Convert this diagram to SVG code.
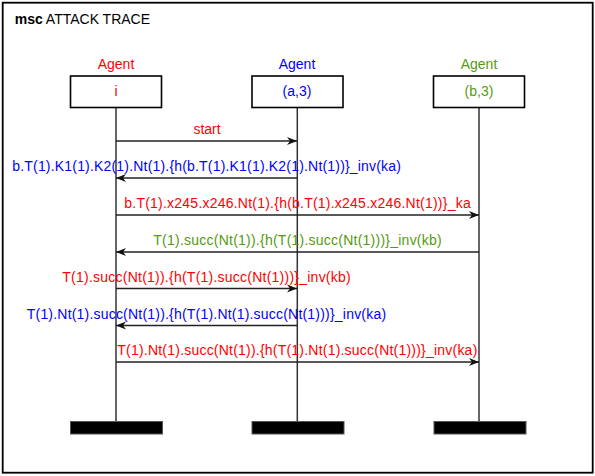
<svg xmlns="http://www.w3.org/2000/svg" width="595" height="476" viewBox="0 0 595 476">
<style>
text{font-family:"Liberation Sans",Arial,sans-serif;font-size:14px}
.c{text-anchor:middle}
.r{fill:#ff0000}
.b{fill:#0000ff}
.g{fill:#559a0f}
.box{fill:#fff;stroke:#000;stroke-width:1.6}
.life{stroke:#333;stroke-width:1.5;fill:none}
.bar{fill:#000;stroke:#555;stroke-width:1}
.msg{stroke:#222;stroke-width:1.4;fill:none;marker-end:url(#ah)}
</style>
<defs>
<marker id="ah" viewBox="-11 -5 12 10" refX="0" refY="0" markerWidth="12" markerHeight="10" markerUnits="userSpaceOnUse" orient="auto">
<path d="M-10,-4 L0,0 L-10,4 L-7,0 z" fill="#111"/>
</marker>
</defs>
<rect x="2.7" y="2.7" width="590" height="470" fill="#fff" stroke="#000" stroke-width="1.8"/>
<text x="14.7" y="24"><tspan font-weight="bold">msc</tspan> ATTACK TRACE</text>

<g id="agent-i">
<text class="c r" x="116" y="69">Agent</text>
<line class="life" x1="116" y1="107.5" x2="116" y2="421.5"/>
<rect class="box" x="70.5" y="76" width="91" height="31.5"/>
<text class="c r" x="116" y="96">i</text>
<rect class="bar" x="70.5" y="421.5" width="92" height="12.5"/>
</g>
<g id="agent-a3">
<text class="c b" x="297" y="69">Agent</text>
<line class="life" x1="297.3" y1="107.5" x2="297.3" y2="421.5"/>
<rect class="box" x="252" y="76" width="91" height="31.5"/>
<text class="c b" x="297" y="96">(a,3)</text>
<rect class="bar" x="252" y="421.5" width="92" height="12.5"/>
</g>
<g id="agent-b3">
<text class="c g" x="479" y="69">Agent</text>
<line class="life" x1="479" y1="107.5" x2="479" y2="421.5"/>
<rect class="box" x="433.5" y="76" width="91" height="31.5"/>
<text class="c g" x="479" y="96">(b,3)</text>
<rect class="bar" x="434" y="421.5" width="92" height="12.5"/>
</g>

<g id="connectors">
<line class="msg" x1="116" y1="141" x2="297" y2="141"/>
<text class="c r" x="207" y="133.5">start</text>
<line class="msg" x1="297" y1="178" x2="116" y2="178"/>
<text class="c b" x="206.6" y="170.5" textLength="388.7" lengthAdjust="spacing">b.T(1).K1(1).K2(1).Nt(1).{h(b.T(1).K1(1).K2(1).Nt(1))}_inv(ka)</text>
<line class="msg" x1="116" y1="215" x2="479" y2="215"/>
<text class="c r" x="297.5" y="207.5" textLength="346.4" lengthAdjust="spacing">b.T(1).x245.x246.Nt(1).{h(b.T(1).x245.x246.Nt(1))}_ka</text>
<line class="msg" x1="479" y1="252" x2="116" y2="252"/>
<text class="c g" x="297.5" y="244.5" textLength="288.4" lengthAdjust="spacing">T(1).succ(Nt(1)).{h(T(1).succ(Nt(1)))}_inv(kb)</text>
<line class="msg" x1="116" y1="288.5" x2="297" y2="288.5"/>
<text class="c r" x="206.5" y="281.5" textLength="288.4" lengthAdjust="spacing">T(1).succ(Nt(1)).{h(T(1).succ(Nt(1)))}_inv(kb)</text>
<line class="msg" x1="297" y1="325.5" x2="116" y2="325.5"/>
<text class="c b" x="206.4" y="318.5" textLength="359.3" lengthAdjust="spacing">T(1).Nt(1).succ(Nt(1)).{h(T(1).Nt(1).succ(Nt(1)))}_inv(ka)</text>
<line class="msg" x1="116" y1="362" x2="479" y2="362"/>
<text class="c r" x="297.3" y="355" textLength="360" lengthAdjust="spacing">T(1).Nt(1).succ(Nt(1)).{h(T(1).Nt(1).succ(Nt(1)))}_inv(ka)</text>
</g>
</svg>
